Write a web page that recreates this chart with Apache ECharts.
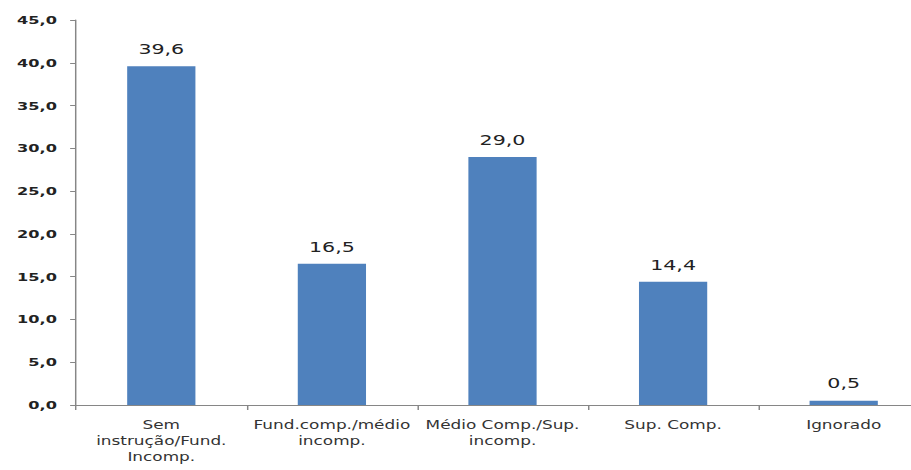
<!DOCTYPE html>
<html>
<head>
<meta charset="utf-8">
<script src="https://cdn.jsdelivr.net/npm/echarts@6/dist/echarts.min.js"></script>
<style>
  html, body { margin: 0; padding: 0; background: #ffffff; overflow: hidden; }
  #chart { width: 911px; height: 470px; }
</style>
</head>
<body>
<div id="chart"></div>
<script>
// Escolaridade: distribuição percentual
const categories = [
  'Sem\ninstrução/Fund.\nIncomp.',
  'Fund.comp./médio\nincomp.',
  'Médio Comp./Sup.\nincomp.',
  'Sup. Comp.',
  'Ignorado'
];
const values = [39.6, 16.5, 29.0, 14.4, 0.5];
const yMin = 0;
const yMax = 45;
const yStep = 5;

// Layout is computed in narrow units and the SVG is shown stretched sideways
const W = 911, H = 470;
const sx = 1.47;
const viewWidth = W / sx;
const el = document.getElementById('chart');

const fmt = v => v.toFixed(1).replace('.', ',');
const fontFamily = '"DejaVu Sans", Verdana, sans-serif';

const chart = echarts.init(el, null, { renderer: 'svg', width: W, height: H });
chart.setOption({
  animation: false,
  backgroundColor: '#ffffff',
  grid: { left: 76 / sx, top: 20, width: 853 / sx, height: 385, containLabel: false },
  xAxis: {
    type: 'category',
    data: categories,
    axisLine: { show: true, lineStyle: { color: '#868686', width: 1 } },
    axisTick: { show: true, length: 5, alignWithLabel: false, lineStyle: { color: '#868686' } },
    axisLabel: {
      interval: 0,
      margin: 12,
      color: '#333333',
      fontFamily: fontFamily,
      fontSize: 11.5,
      lineHeight: 16
    }
  },
  yAxis: {
    type: 'value',
    min: yMin,
    max: yMax,
    interval: yStep,
    axisLine: { show: true, lineStyle: { color: '#868686', width: 1 } },
    axisTick: { show: true, length: 4, lineStyle: { color: '#868686' } },
    splitLine: { show: false },
    axisLabel: {
      margin: 13,
      color: '#222222',
      fontFamily: fontFamily,
      fontSize: 11,
      fontWeight: 'bold',
      formatter: v => fmt(v)
    }
  },
  series: [{
    type: 'bar',
    data: values,
    barWidth: '40%',
    itemStyle: { color: '#4F81BD' },
    label: {
      show: true,
      position: 'top',
      distance: 10,
      color: '#222222',
      fontFamily: fontFamily,
      fontSize: 14,
      formatter: p => fmt(p.value)
    }
  }]
});

// stretch the rendered SVG horizontally
const svg = el.querySelector('svg');
svg.setAttribute('viewBox', '0 0 ' + viewWidth + ' ' + H);
svg.setAttribute('preserveAspectRatio', 'none');
</script>
</body>
</html>
